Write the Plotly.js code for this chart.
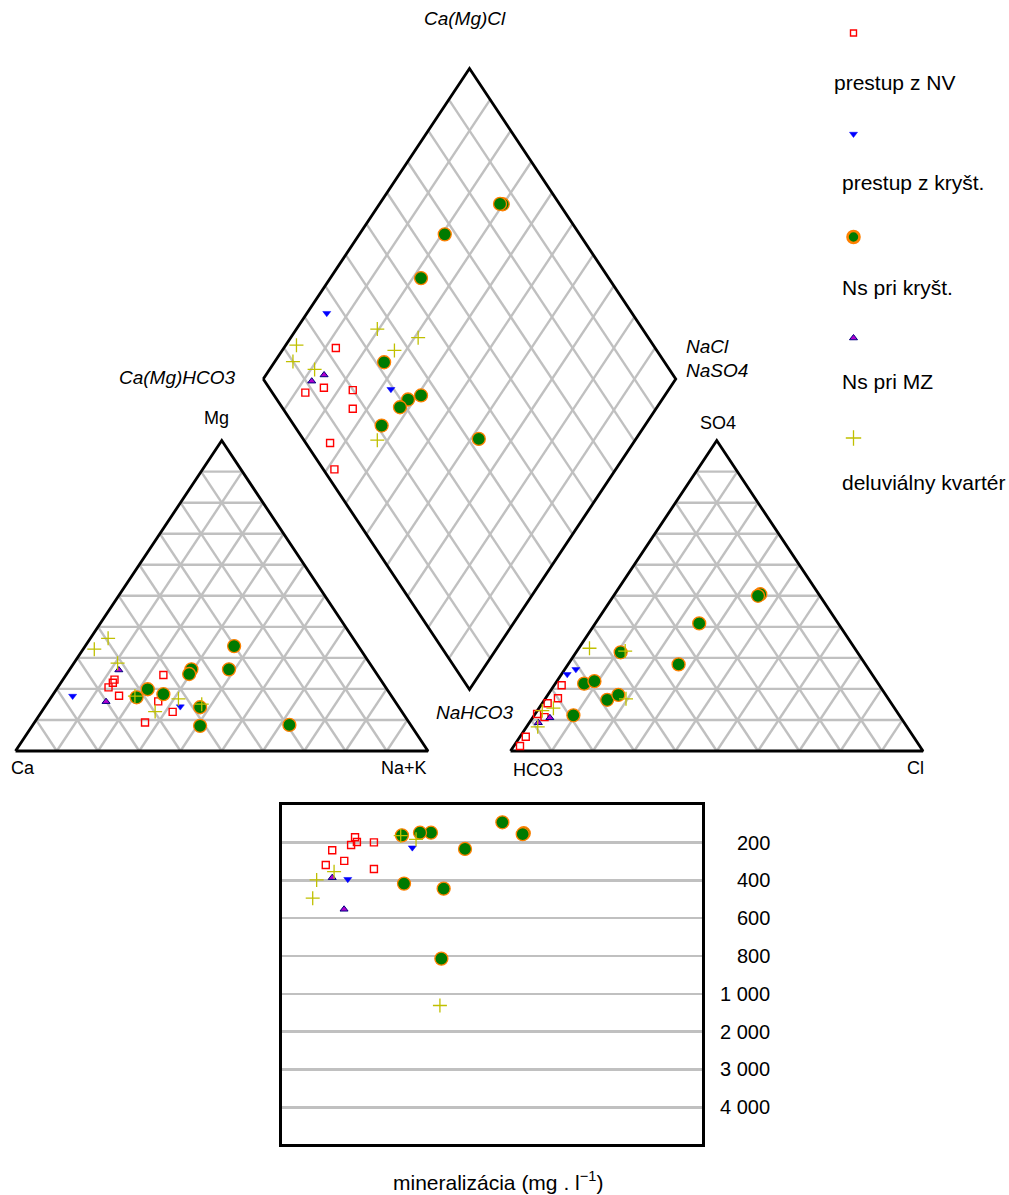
<!DOCTYPE html>
<html>
<head>
<meta charset="utf-8">
<script src="https://cdn.plot.ly/plotly-3.0.1.min.js"></script>
<style>html,body{margin:0;padding:0;background:#fff;}#chart{width:1009px;height:1195px;}</style>
</head>
<body>
<div id="chart"></div>
<script>
// ---------------- DATA (percent of meq; mineralization in mg/l) ----------------
// Group names
const groupNames = ["prestup z NV", "prestup z kryšt.", "Ns pri kryšt.", "Ns pri MZ", "deluviálny kvartér"];

// prestup z NV
const nvCatMg  = [24.5, 23.0, 22.0, 20.5, 17.8, 16.0, 12.6, 9.2];
const nvCatNaK = [23.6, 12.5, 12.6, 12.3, 16.2, 26.6, 31.8, 26.8];
const nvAnSO4  = [21.2, 17.0, 15.4, 10.9, 11.9, 4.6, 1.6];
const nvAnCl   = [1.8, 3.0, 1.3, 2.8, 0.5, 1.4, 1.5];
const nvDiaNaK = [12.6, 16.1, 12.4, 23.5, 26.5, 26.5, 31.8];
const nvDiaAn  = [22.6, 13.3, 8.0, 19.9, 16.9, 5.9, 2.7];
const nvBoxSum = [35.2, 36.1, 33.3, 44.3, 24.2, 21.1, 30.0, 44.3];
const nvBoxTDS = [172, 197, 213, 199, 241, 319, 297, 340];

// prestup z kryšt.
const krCatMg  = [17.7, 14.3];
const krCatNaK = [5.0, 32.8];
const krAnSO4  = [26.3, 24.7];
const krAnCl   = [2.7, 1.4];
const krDiaNaK = [4.8, 32.6];
const krDiaAn  = [26.0, 29.3];
const krBoxSum = [62.8, 31.7];
const krBoxTDS = [227, 394];

// Ns pri kryšt.
const nsCatMg  = [33.8, 26.3, 26.3, 24.8, 19.9, 18.3, 17.3, 14.1, 8.1, 8.4];
const nsCatNaK = [36.1, 38.6, 29.5, 29.7, 22.1, 26.7, 20.7, 37.7, 40.7, 62.2];
const nsAnSO4  = [50.5, 50.0, 41.1, 31.8, 27.9, 21.7, 22.5, 16.5, 18.1, 11.5];
const nsAnCl   = [35.3, 35.0, 25.2, 10.8, 26.8, 7.0, 9.1, 15.2, 17.1, 9.5];
const nsDiaNaK = [29.9, 29.2, 20.7, 22.0, 26.6, 40.9, 38.4, 37.7, 36.2, 61.9];
const nsDiaAn  = [86.2, 85.6, 67.3, 54.5, 32.0, 35.6, 31.8, 28.6, 21.2, 42.6];
const nsBoxSum = [116.5, 116.0, 106.2, 88.2, 77.9, 76.8, 71.8, 66.5, 57.8, 58.8];
const nsBoxTDS = [151, 156, 93, 234, 444, 814, 148, 148, 162, 417];

// Ns pri MZ
const mzCatMg  = [26.1, 15.9];
const mzCatNaK = [12.0, 14.0];
const mzAnSO4  = [10.7, 9.1];
const mzAnCl   = [4.2, 2.2];
const mzDiaNaK = [14.1, 12.1];
const mzDiaAn  = [15.4, 11.4];
const mzBoxSum = [24.2, 29.9];
const mzBoxTDS = [386, 553];

// deluviálny kvartér
const dkCatMg  = [36.3, 32.8, 28.3, 17.7, 16.8, 12.7, 15.1];
const dkCatNaK = [4.3, 2.7, 10.6, 20.1, 31.1, 27.5, 37.6];
const dkAnSO4  = [33.1, 32.2, 16.8, 13.8, 13.0, 7.8];
const dkAnCl   = [2.6, 11.7, 19.6, 3.5, 1.2, 2.7];
const dkDiaNaK = [19.6, 30.9, 27.2, 2.6, 4.4, 10.9, 37.5];
const dkDiaAn  = [35.7, 44.2, 36.4, 13.5, 10.0, 14.0, 17.8];
const dkBoxSum = [57.2, 64.6, 25.1, 16.7, 14.8, 76.1];
const dkBoxTDS = [164, 183, 354, 398, 494, 1309];

// mineralization axis
const tdsTickVals   = [200, 400, 600, 800, 1000, 2000, 3000, 4000];
const tdsTickLabels = ["200", "400", "600", "800", "1 000", "2 000", "3 000", "4 000"];

// ---------------- GEOMETRY ----------------
const W = 1009, H = 1195;
const CAT = {x0: 15.5, y0: 751, w: 412.5, h: 310.4};
const AN  = {x0: 510.5, y0: 751, w: 412.5, h: 310.4};
const DIA = {x0: 263.25, y0: 379, hw: 206.25, hh: 310.4};

function triXY(T, top, right) { // top: apex component %, right: right corner component %
  const t = top / 100, r = right / 100;
  return [T.x0 + T.w * r + T.w / 2 * t, T.y0 - T.h * t];
}
function diaXY(nak, an) {
  const n = nak / 100, s = an / 100;
  return [DIA.x0 + DIA.hw * (n + s), DIA.y0 + DIA.hh * (n - s)];
}
function tdsIdx(v) { return v <= 1000 ? v / 200 : 5 + (v - 1000) / 1000; }

const GRID = '#c0c0c0';
const traces = [];

function segTrace(segs, color, width) {
  const x = [], y = [];
  segs.forEach(s => { s.forEach(p => { x.push(p[0]); y.push(p[1]); }); x.push(null); y.push(null); });
  return {type: 'scatter', mode: 'lines', x, y, xaxis: 'x', yaxis: 'y', hoverinfo: 'skip',
          showlegend: false, line: {color, width}, cliponaxis: false};
}

// triangle grids
[CAT, AN].forEach(T => {
  const segs = [];
  for (let k = 1; k <= 9; k++) {
    const f = k * 10;
    segs.push([triXY(T, f, 0), triXY(T, f, 100 - f)]);
    segs.push([triXY(T, 0, f), triXY(T, 100 - f, f)]);
    segs.push([triXY(T, 0, 100 - f), triXY(T, 100 - f, 0)]);
  }
  traces.push(segTrace(segs, GRID, 2.4));
});
// diamond grid
(function () {
  const segs = [];
  for (let k = 1; k <= 9; k++) {
    const f = k * 10;
    segs.push([diaXY(f, 0), diaXY(f, 100)]);
    segs.push([diaXY(0, f), diaXY(100, f)]);
  }
  traces.push(segTrace(segs, GRID, 2.4));
})();
// borders
[CAT, AN].forEach(T => {
  traces.push(segTrace([[triXY(T, 0, 0), triXY(T, 0, 100), triXY(T, 100, 0), triXY(T, 0, 0)]], '#000', 2.8));
});
traces.push(segTrace([[diaXY(0, 0), diaXY(100, 0), diaXY(100, 100), diaXY(0, 100), diaXY(0, 0)]], '#000', 2.8));

// ---------------- MARKER STYLES ----------------
const styles = {
  nv: {symbol: 'square-open', size: 7, color: '#ff0000', line: {color: '#ff0000', width: 1.4}},
  kr: {symbol: 'triangle-down', size: 7, color: '#0000ff', line: {color: '#0000ff', width: 0.5}},
  ns: {symbol: 'circle', size: 13, color: '#007a00', line: {color: '#ff8000', width: 1.3}},
  mz: {symbol: 'triangle-up', size: 7, color: '#b000d0', line: {color: '#000080', width: 1}},
  dk: {symbol: 'cross-thin-open', size: 10, color: '#c0c000', line: {color: '#c0c000', width: 1.3}}
};

const groups = [
  ['nv', nvCatMg, nvCatNaK, nvAnSO4, nvAnCl, nvDiaNaK, nvDiaAn, nvBoxSum, nvBoxTDS],
  ['kr', krCatMg, krCatNaK, krAnSO4, krAnCl, krDiaNaK, krDiaAn, krBoxSum, krBoxTDS],
  ['ns', nsCatMg, nsCatNaK, nsAnSO4, nsAnCl, nsDiaNaK, nsDiaAn, nsBoxSum, nsBoxTDS],
  ['mz', mzCatMg, mzCatNaK, mzAnSO4, mzAnCl, mzDiaNaK, mzDiaAn, mzBoxSum, mzBoxTDS],
  ['dk', dkCatMg, dkCatNaK, dkAnSO4, dkAnCl, dkDiaNaK, dkDiaAn, dkBoxSum, dkBoxTDS]
];

function ptTrace(name, pts, st, xa, ya) {
  return {type: 'scatter', mode: 'markers', name, x: pts.map(p => p[0]), y: pts.map(p => p[1]),
          xaxis: xa, yaxis: ya, showlegend: false, hoverinfo: 'skip', cliponaxis: false,
          marker: {symbol: st.symbol, size: st.size, color: st.color, line: st.line}};
}

groups.forEach((g, gi) => {
  const [key, cMg, cNa, aS, aC, dN, dA, bS, bT] = g;
  const st = styles[key];
  traces.push(ptTrace(groupNames[gi], cMg.map((v, i) => triXY(CAT, v, cNa[i])), st, 'x', 'y'));
  traces.push(ptTrace(groupNames[gi], aS.map((v, i) => triXY(AN, v, aC[i])), st, 'x', 'y'));
  traces.push(ptTrace(groupNames[gi], dN.map((v, i) => diaXY(v, dA[i])), st, 'x', 'y'));
  traces.push(ptTrace(groupNames[gi], bS.map((v, i) => [v, tdsIdx(bT[i])]), st, 'x2', 'y2'));
});

// ---------------- LEGEND (manual, label under symbol) ----------------
const legendKeys = ['nv', 'kr', 'ns', 'mz', 'dk'];
const legMarkY = [33, 134, 237, 338, 438];
const legTextY = [82, 182, 287, 381, 482];
const legTextX = [832, 840, 840, 840, 840];
legendKeys.forEach((k, i) => {
  const st = Object.assign({}, styles[k]);
  if (k === 'ns') { st.size = 12; st.line = {color: '#ff8000', width: 2.6}; st.color = '#007a00'; }
  if (k === 'nv') { st.size = 6; }
  if (k === 'dk') { st.size = 11; }
  traces.push(ptTrace(groupNames[i], [[853.5, legMarkY[i]]], st, 'x', 'y'));
});

// ---------------- ANNOTATIONS ----------------
const FONT = 'Liberation Sans, Arial, sans-serif';
const ann = [];
function txt(text, x, y, size, xanchor, extra) {
  ann.push(Object.assign({text, x, y, xref: 'x', yref: 'y', showarrow: false, xanchor: xanchor || 'center',
    yanchor: 'middle', font: {family: FONT, size, color: '#000'}}, extra || {}));
}
// corner labels
txt('Mg', 216.5, 418, 18);
txt('Ca', 22.5, 768, 18);
txt('Na+K', 404, 768, 18);
txt('SO4', 718, 423, 18);
txt('HCO3', 538, 770, 18);
txt('Cl', 915, 768, 18);
// diamond labels (italic)
txt('<i>Ca(Mg)Cl</i>', 465, 18, 19);
txt('<i>Ca(Mg)HCO3</i>', 238, 377, 19, 'right');
txt('<i>NaCl</i>', 684, 346, 19, 'left');
txt('<i>NaSO4</i>', 684, 370, 19, 'left');
txt('<i>NaHCO3</i>', 474.5, 712, 19);
// legend labels
groupNames.forEach((n, i) => txt(n, legTextX[i], legTextY[i], 21, 'left'));
// mineralization tick labels
tdsTickVals.forEach((v, i) => {
  ann.push({text: tdsTickLabels[i], xref: 'x', x: 772, yref: 'y2', y: tdsIdx(v), showarrow: false,
    xanchor: 'right', yanchor: 'middle', font: {family: FONT, size: 20, color: '#000'}});
});
// mineralization title
txt('mineralizácia (mg . l<sup>−1</sup>)', 498, 1181, 21);

// ---------------- LAYOUT ----------------
const boxL = 282, boxR = 702, boxT = 804.7, boxB = 1144;
const layout = {
  width: W, height: H,
  margin: {l: 0, r: 0, t: 0, b: 0, pad: 0},
  paper_bgcolor: '#fff', plot_bgcolor: 'rgba(0,0,0,0)',
  showlegend: false, hovermode: false,
  xaxis: {domain: [0, 1], range: [0, W], visible: false, fixedrange: true},
  yaxis: {domain: [0, 1], range: [H, 0], visible: false, fixedrange: true},
  xaxis2: {domain: [boxL / W, boxR / W], anchor: 'y2', range: [0, 202.4], showgrid: false, zeroline: false,
           showticklabels: false, ticks: '', showline: true, mirror: true, linecolor: '#000', linewidth: 3, fixedrange: true},
  yaxis2: {domain: [1 - boxB / H, 1 - boxT / H], anchor: 'x2', range: [8.97, 0],
           tickmode: 'array', tickvals: tdsTickVals.map(tdsIdx), showticklabels: false, ticks: '',
           showgrid: true, gridcolor: GRID, gridwidth: 2.4, zeroline: false,
           showline: true, mirror: true, linecolor: '#000', linewidth: 3, fixedrange: true},
  annotations: ann
};

Plotly.newPlot('chart', traces, layout, {displayModeBar: false, staticPlot: true});
</script>
</body>
</html>
